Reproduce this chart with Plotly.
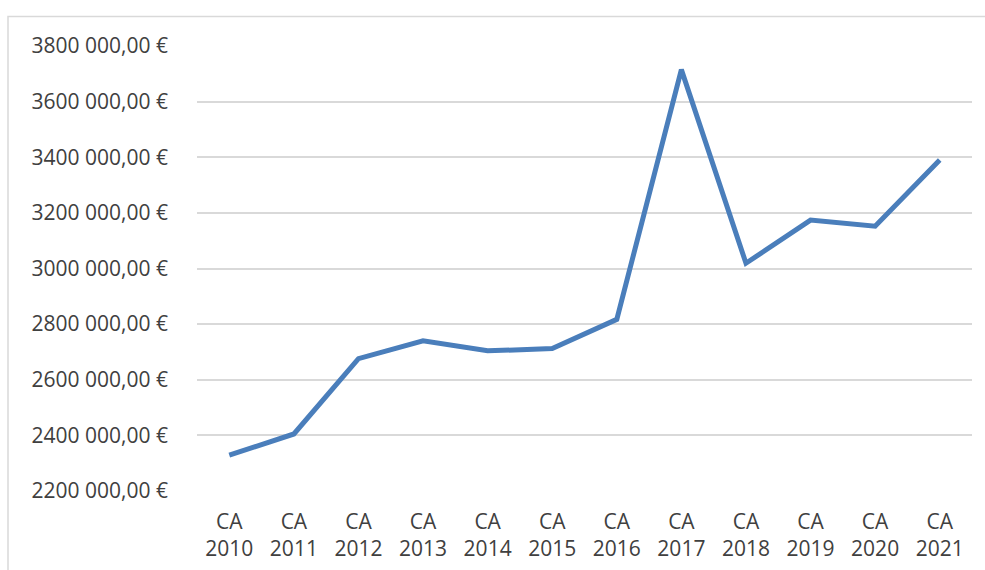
import plotly.graph_objects as go

# Chiffre d'affaires annuel
years = ["2010", "2011", "2012", "2013", "2014", "2015",
         "2016", "2017", "2018", "2019", "2020", "2021"]
revenue = [2329000, 2405000, 2676000, 2740000, 2704000, 2712000,
           2817000, 3715000, 3019000, 3174000, 3152000, 3390000]
y_ticks = [2200000, 2400000, 2600000, 2800000, 3000000,
           3200000, 3400000, 3600000, 3800000]

categories = [f"CA<br>{y}" for y in years]


def euro(v):
    return f"{v // 1000} {v % 1000:03d},00 €"


W, H = 985, 570
ML, MR, MT, MB = 197, 13, 46, 79
font = dict(family="Open Sans, Lato, sans-serif", size=21, color="#404040")

fig = go.Figure()
fig.add_trace(go.Scatter(
    x=list(range(len(years))), y=revenue, mode="lines",
    line=dict(color="#4a7ebb", width=5),
    hoverinfo="skip", showlegend=False,
))

# Light frame around the chart area
pw, ph = W - ML - MR, H - MT - MB
fig.add_shape(type="rect", xref="paper", yref="paper",
              x0=(8 - ML) / pw, x1=(W + 20 - ML) / pw,
              y0=-(H + 20 - MT - ph) / ph, y1=(H - MB - 16.5) / ph,
              line=dict(color="#d9d9d9", width=1.5), layer="below")

fig.update_layout(
    width=W, height=H,
    margin=dict(l=ML, r=MR, t=MT, b=MB, pad=0, autoexpand=False),
    paper_bgcolor="white", plot_bgcolor="white",
    font=font,
    xaxis=dict(
        range=[-0.5, len(years) - 0.5],
        tickmode="array", tickvals=list(range(len(years))), ticktext=categories,
        showgrid=False, zeroline=False, showline=False, ticks="",
        ticklabelstandoff=16, fixedrange=True, automargin=False,
    ),
    yaxis=dict(
        range=[y_ticks[0], y_ticks[-1]],
        tickmode="array", tickvals=y_ticks, ticktext=[euro(v) for v in y_ticks],
        showgrid=True, gridcolor="#d9d9d9", gridwidth=1.5,
        zeroline=False, showline=False, ticks="",
        ticklabelstandoff=28, fixedrange=True, automargin=False,
    ),
)

fig.write_html("out.html")
